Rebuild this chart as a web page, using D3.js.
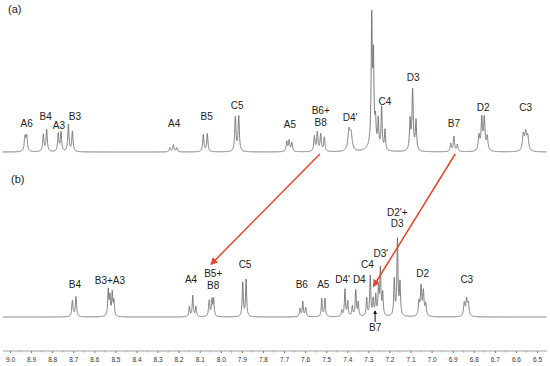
<!DOCTYPE html>
<html><head><meta charset="utf-8">
<script src="https://cdn.jsdelivr.net/npm/d3@7"></script>
<style>html,body{margin:0;padding:0;background:#fff;}svg{display:block;}</style>
</head><body>
<svg id="c" width="550" height="366"></svg>
<script>
// ---- DATA ----
// peaks: [chemical shift (ppm), intensity, half-width (ppm)]
const peaksA = [
  [8.929,14,0.004],[8.921,15,0.004],
  [8.842,17,0.0035],[8.826,22,0.0035],
  [8.771,18,0.0035],[8.758,19,0.0035],
  [8.723,27,0.0035],[8.704,20,0.0035],
  [8.241,4,0.0035],[8.225,7,0.0035],[8.209,4,0.0035],
  [8.083,17,0.0035],[8.064,18,0.0035],
  [7.931,34,0.0035],[7.915,35,0.0035],
  [7.687,10,0.0035],[7.676,11,0.0035],[7.663,9,0.0035],
  [7.556,15,0.0035],[7.542,19,0.0035],[7.526,17,0.0035],[7.509,14,0.0035],
  [7.392,20,0.006],[7.382,16,0.006],
  [7.284,120,0.003],[7.276,78,0.003],[7.266,22,0.003],[7.279,12,0.015],
  [7.253,28,0.003],[7.237,42,0.003],[7.221,20,0.003],
  [7.102,30,0.0035],[7.090,60,0.0035],[7.074,30,0.0035],
  [6.909,8,0.0035],[6.894,15,0.0035],[6.878,7,0.0035],
  [6.775,15,0.004],[6.762,32,0.004],[6.750,32,0.004],[6.736,14,0.004],
  [6.565,16,0.005],[6.554,17,0.005],[6.544,14,0.005]
];
const peaksB = [
  [8.704,16,0.0035],[8.687,20,0.0035],
  [8.534,26,0.003],[8.526,19,0.003],[8.515,23,0.003],[8.507,15,0.003],
  [8.149,10,0.003],[8.133,21,0.003],[8.118,10,0.003],
  [8.055,16,0.0035],[8.042,16,0.003],[8.034,17,0.003],
  [7.896,34,0.003],[7.880,37,0.003],
  [7.624,8,0.003],[7.611,15,0.003],[7.597,9,0.003],
  [7.521,18,0.003],[7.506,18,0.003],
  [7.426,6,0.003],[7.411,27,0.003],[7.398,15,0.003],
  [7.376,10,0.003],[7.360,26,0.003],[7.348,14,0.003],
  [7.308,18,0.003],[7.291,40,0.003],[7.277,16,0.003],
  [7.265,20,0.003],[7.252,26,0.003],[7.243,46,0.003],[7.232,22,0.003],
  [7.177,36,0.003],[7.162,76,0.003],[7.150,32,0.003],
  [7.060,14,0.0035],[7.050,29,0.0035],[7.039,24,0.0035],[7.028,12,0.0035],
  [6.845,13,0.004],[6.834,16,0.004],[6.826,12,0.004]
];
// labels: [text, ppm anchor, baseline y]
const labelsA = [
  ["A6",8.921,127],["B4",8.831,120],["A3",8.768,129],["B3",8.692,120],
  ["A4",8.221,127],["B5",8.067,120],["C5",7.922,109],["A5",7.672,128],
  ["B6+",7.526,114],["B8",7.526,125.5],["D4'",7.387,120.5],["C4",7.221,104.5],
  ["D3",7.087,80.5],["B7",6.894,127],["D2",6.755,110.5],["C3",6.554,110.5]
];
const labelsB = [
  ["B4",8.692,288],["B3+A3",8.526,284],["A4",8.141,283],["B5+",8.036,277],
  ["B8",8.036,289],["C5",7.885,268],["B6",7.616,288],["A5",7.514,288],
  ["D4'",7.422,283],["D4",7.343,283],["C4",7.305,268],["D3'",7.241,257],
  ["D2'+",7.163,215.5],["D3",7.163,226.5],["D2",7.042,276.5],["C3",6.833,283],
  ["B7",7.268,331]
];
const tickValues = [9.0,8.9,8.8,8.7,8.6,8.5,8.4,8.3,8.2,8.1,8.0,7.9,7.8,7.7,7.6,7.5,7.4,7.3,7.2,7.1,7.0,6.9,6.8,6.7,6.6,6.5];
// shift-change arrows between spectra: [from ppm (a), to ppm (b)]
const shiftArrows = [[7.530,8.045],[6.888,7.275]];

// ---- CHART ----
const svg = d3.select("#c");
const x = d3.scaleLinear().domain([9.0,6.5]).range([10,537]);
const yA = d3.scaleLinear().domain([0,130]).range([152,22]);
const yB = d3.scaleLinear().domain([0,130]).range([317,187]);

function spectrum(peaks){
  const pts=[];
  for(let p=9.035;p>=6.455;p-=0.0004){
    let s=0;
    for(const [c,h,w] of peaks){const d=p-c; s+=h*w*w/(d*d+w*w);}
    pts.push([p,s]);
  }
  return pts;
}
const lineA = d3.line().x(d=>x(d[0])).y(d=>yA(d[1]));
const lineB = d3.line().x(d=>x(d[0])).y(d=>yB(d[1]));
svg.append("path").attr("d",lineA(spectrum(peaksA))).attr("fill","none").attr("stroke","#6e6e6e").attr("stroke-width",0.9);
svg.append("path").attr("d",lineB(spectrum(peaksB))).attr("fill","none").attr("stroke","#6e6e6e").attr("stroke-width",0.9);

const font="Liberation Sans, Arial, sans-serif";
function labels(arr){
  svg.append("g").selectAll("text").data(arr).join("text")
    .attr("x",d=>x(d[1])).attr("y",d=>d[2]).attr("text-anchor","middle")
    .attr("font-family",font).attr("font-size",10).attr("fill","#222").text(d=>d[0]);
}
labels(labelsA); labels(labelsB);
svg.append("text").attr("x",8).attr("y",13).attr("font-family",font).attr("font-size",11).attr("fill","#222").text("(a)");
svg.append("text").attr("x",11).attr("y",183).attr("font-family",font).attr("font-size",11).attr("fill","#222").text("(b)");

// axis
const ax = svg.append("g").attr("transform","translate(0,351)")
  .call(d3.axisBottom(x).tickValues(tickValues).tickFormat(d3.format(".1f")).tickSize(2).tickSizeOuter(0));
ax.select(".domain").remove();
ax.selectAll("line").attr("stroke","#777");
ax.selectAll("text").attr("font-family",font).attr("font-size",6.5).attr("fill","#333").attr("dy","0.9em");
svg.append("line").attr("x1",3).attr("x2",547).attr("y1",351).attr("y2",351).attr("stroke","#888").attr("stroke-width",0.8);
const minor = d3.range(0,25).map(i=>9.0-0.05-i*0.1);
svg.append("g").selectAll("line").data(minor).join("line")
  .attr("x1",d=>x(d)).attr("x2",d=>x(d)).attr("y1",351).attr("y2",352.5).attr("stroke","#888").attr("stroke-width",0.7);

// arrows
const defs = svg.append("defs");
defs.append("marker").attr("id","ar").attr("viewBox","0 0 10 10").attr("refX",8).attr("refY",5)
  .attr("markerWidth",5).attr("markerHeight",5).attr("orient","auto")
  .append("path").attr("d","M0,0L10,5L0,10z").attr("fill","#e8432b");
defs.append("marker").attr("id","ak").attr("viewBox","0 0 10 10").attr("refX",8).attr("refY",5)
  .attr("markerWidth",4).attr("markerHeight",4).attr("orient","auto")
  .append("path").attr("d","M0,0L10,5L0,10z").attr("fill","#111");
svg.append("g").selectAll("line").data(shiftArrows).join("line")
  .attr("x1",d=>x(d[0])).attr("y1",154).attr("x2",d=>x(d[1])).attr("y2",(d,i)=>i===0?264:286)
  .attr("stroke","#e8432b").attr("stroke-width",1.5).attr("marker-end","url(#ar)");
svg.append("line").attr("x1",x(7.268)).attr("x2",x(7.268)).attr("y1",322).attr("y2",311)
  .attr("stroke","#111").attr("stroke-width",1).attr("marker-end","url(#ak)");
</script>
</body></html>
